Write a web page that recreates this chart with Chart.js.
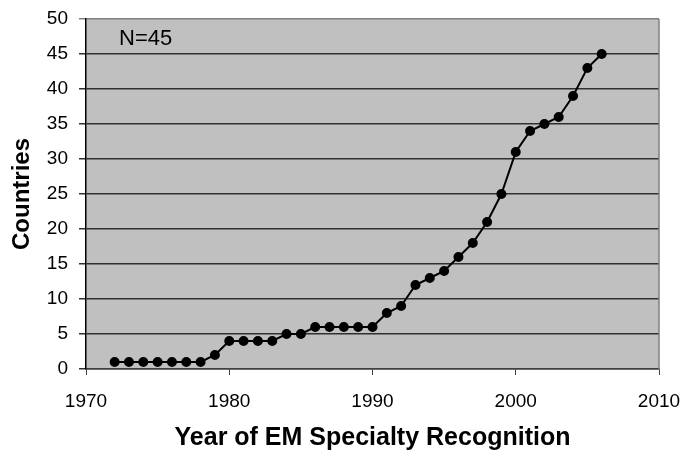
<!DOCTYPE html>
<html>
<head>
<meta charset="utf-8">
<script src="https://cdn.jsdelivr.net/npm/chart.js@4"></script>
<style>
	html, body { margin: 0; padding: 0; background: #fff; }
	#wrap { width: 685px; height: 453px; }
</style>
</head>
<body>
<div id="wrap"><canvas id="mycanvas" width="685" height="453"></canvas></div>
<script>
var years = [1972, 1973, 1974, 1975, 1976, 1977, 1978, 1979, 1980, 1981, 1982, 1983, 1984, 1985, 1986, 1987, 1988, 1989, 1990,
	1991, 1992, 1993, 1994, 1995, 1996, 1997, 1998, 1999, 2000, 2001, 2002, 2003, 2004, 2005, 2006];
var countries = [1, 1, 1, 1, 1, 1, 1, 2, 4, 4, 4, 4, 5, 5, 6, 6, 6, 6, 6,
	8, 9, 12, 13, 14, 16, 18, 21, 25, 31, 34, 35, 36, 39, 43, 45];
var xTicks = [1970, 1980, 1990, 2000, 2010];
var yTicks = [0, 5, 10, 15, 20, 25, 30, 35, 40, 45, 50];
var note = 'N=45';

var points = [];
for (var i in years) {
	points.push({x: years[i], y: countries[i]});
}

// gray plot area, right border and the N label
var plotBox = {
	id: 'plotBox',
	beforeDraw: function(chart) {
		var c = chart.ctx, a = chart.chartArea;
		c.save();
		c.fillStyle = '#c0c0c0';
		c.fillRect(a.left, a.top, a.right - a.left, a.bottom - a.top);
		c.restore();
	},
	afterDatasetsDraw: function(chart) {
		var c = chart.ctx, a = chart.chartArea;
		c.save();
		c.strokeStyle = '#808080';
		c.lineWidth = 1.5;
		c.beginPath();
		c.moveTo(a.right, a.top);
		c.lineTo(a.right, a.bottom);
		c.stroke();
		c.fillStyle = '#000';
		c.font = '22px "Liberation Sans", Arial, sans-serif';
		c.textAlign = 'left';
		c.textBaseline = 'middle';
		c.fillText(note, a.left + 33, a.top + 20);
		c.restore();
	}
};

var ctx = document.getElementById('mycanvas');

var lineGraph = new Chart(ctx, {
	type: 'line',
	data: {
		datasets: [{
			data: points,
			borderColor: '#000',
			backgroundColor: '#000',
			borderWidth: 2,
			pointRadius: 4,
			pointHoverRadius: 4,
			pointBackgroundColor: '#000',
			pointBorderColor: '#000',
			tension: 0
		}]
	},
	options: {
		responsive: false,
		animation: false,
		layout: { padding: { left: 0, right: 26, top: 19, bottom: 0 } },
		plugins: {
			legend: { display: false },
			tooltip: { enabled: false }
		},
		scales: {
			x: {
				type: 'linear',
				min: 1970,
				max: 2010,
				afterBuildTicks: function(s) { s.ticks = xTicks.map(function(v) { return {value: v}; }); },
				afterFit: function(s) { s.height = 84; s.paddingLeft = 0; s.paddingRight = 0; },
				border: { color: '#404040', width: 1.5 },
				grid: { drawOnChartArea: false, tickLength: 6, color: '#404040' },
				ticks: {
					color: '#000',
					padding: 15,
					maxRotation: 0,
					font: { family: '"Liberation Sans", Arial, sans-serif', size: 19 },
					callback: function(v) { return String(v); }
				},
				title: {
					display: true,
					text: 'Year of EM Specialty Recognition',
					color: '#000',
					padding: { top: 0, bottom: 0 },
					font: { family: '"Liberation Sans", Arial, sans-serif', size: 25, weight: 'bold' }
				}
			},
			y: {
				min: 0,
				max: 50,
				afterBuildTicks: function(s) { s.ticks = yTicks.map(function(v) { return {value: v}; }); },
				afterFit: function(s) { s.width = 86; s.paddingTop = 0; s.paddingBottom = 0; },
				border: { color: '#000', width: 1.5 },
				grid: {
					tickLength: 7,
					lineWidth: 1.5,
					color: function(c) { return c.tick && c.tick.value === 50 ? '#808080' : '#303030'; }
				},
				ticks: {
					color: '#000',
					padding: 11,
					font: { family: '"Liberation Sans", Arial, sans-serif', size: 19 }
				},
				title: {
					display: true,
					text: 'Countries',
					color: '#000',
					padding: { top: 8, bottom: 0 },
					font: { family: '"Liberation Sans", Arial, sans-serif', size: 24, weight: 'bold' }
				}
			}
		}
	},
	plugins: [plotBox]
});
</script>
</body>
</html>
